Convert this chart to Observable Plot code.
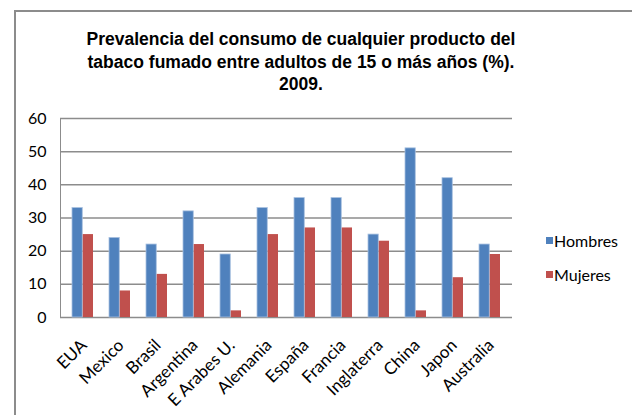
<!DOCTYPE html>
<html>
<head>
<meta charset="utf-8">
<script src="https://cdn.jsdelivr.net/npm/d3@7"></script>
<script src="https://cdn.jsdelivr.net/npm/@observablehq/plot@0.6"></script>
<style>
  html, body { margin: 0; padding: 0; background: #fff; }
  #wrap { position: relative; width: 632px; height: 415px; overflow: hidden; background: #fff; }
  #frame { position: absolute; left: 14px; top: 10px; width: 700px; height: 500px; border: 2px solid #8c8c8c; box-sizing: border-box; }
  #title { position: absolute; left: 0; top: 28px; width: 602px; text-align: center;
    font-family: "Liberation Sans", Arial, sans-serif; font-weight: bold; font-size: 17.5px; line-height: 22.5px; color: #000; }
  #chart { position: absolute; left: 0; top: 0; }
  #chart svg text { fill: #000; font-size: 16px; }
  #chart svg g[aria-label="x-axis tick label"] text { font-size: 17px; }
  #legend { position: absolute; left: 546px; top: 229px; font-family: Lato, "Open Sans", sans-serif; font-size: 16px; color: #000; }
  #legend .item { display: flex; align-items: center; height: 22px; margin-bottom: 12px; }
  #legend .sw { width: 7px; height: 7px; margin-right: 1px; }
</style>
</head>
<body>
<div id="wrap">
  <div id="frame"></div>
  <div id="title">Prevalencia del consumo de cualquier producto del<br>tabaco fumado entre adultos de 15 o más años (%).<br>2009.</div>
  <div id="chart"></div>
  <div id="legend"></div>
</div>
<script>
const countries = ["EUA", "Mexico", "Brasil", "Argentina", "E Arabes U.", "Alemania", "España", "Francia", "Inglaterra", "China", "Japon", "Australia"];
const hombres = [33, 24, 22, 32, 19, 33, 36, 36, 25, 51, 42, 22];
const mujeres = [25, 8, 13, 22, 2, 25, 27, 27, 23, 2, 12, 19];
const series = ["Hombres", "Mujeres"];
const colors = ["#4F81BD", "#C0504D"];
const yTicks = [0, 10, 20, 30, 40, 50, 60];

const dataH = countries.map((c, i) => ({country: c, value: hombres[i]}));
const dataM = countries.map((c, i) => ({country: c, value: mujeres[i]}));

const W = 632, H = 415;
const mL = 60, mR = 120, mT = 118, mB = 98;
const step = (W - mL - mR) / countries.length;
const bw = step * 0.57;
const half = bw / 2;

const chart = Plot.plot({
  width: W,
  height: H,
  marginLeft: mL,
  marginRight: mR,
  marginTop: mT,
  marginBottom: mB,
  style: {fontFamily: "Lato, 'Open Sans', sans-serif", fontSize: "16px", color: "#8c8c8c", background: "transparent", overflow: "visible"},
  x: {domain: countries, paddingInner: 0.43, paddingOuter: 0.215, label: null},
  y: {domain: [0, 60], ticks: yTicks, label: null, tickSize: 0, tickPadding: 14, line: true},
  marks: [
    Plot.ruleY(yTicks, {stroke: "#8c8c8c", strokeWidth: 1.5}),
    Plot.barY(dataH, {x: "country", y: "value", fill: colors[0], insetRight: half, stroke: "#a9c1e0", strokeWidth: 0.8}),
    Plot.barY(dataM, {x: "country", y: "value", fill: colors[1], insetLeft: half}),
    Plot.axisX({tickSize: 0, tickRotate: -45, tickPadding: 25, dx: 1, label: null, fontSize: 17})
  ]
});
document.getElementById("chart").appendChild(chart);

const legend = document.getElementById("legend");
series.forEach((s, i) => {
  const item = document.createElement("div");
  item.className = "item";
  const sw = document.createElement("span");
  sw.className = "sw";
  sw.style.background = colors[i];
  const t = document.createElement("span");
  t.textContent = s;
  item.appendChild(sw);
  item.appendChild(t);
  legend.appendChild(item);
});
</script>
</body>
</html>
